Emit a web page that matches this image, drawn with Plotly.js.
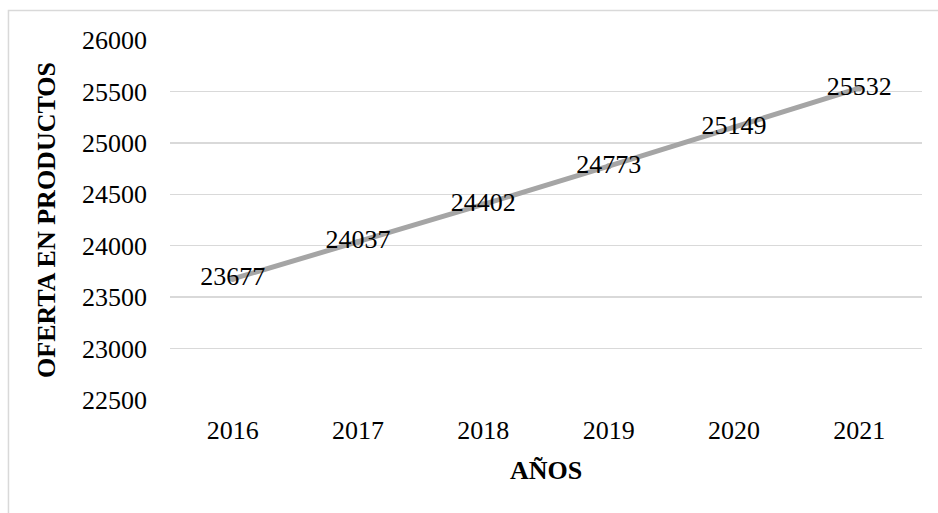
<!DOCTYPE html>
<html>
<head>
<meta charset="utf-8">
<script src="https://cdn.plot.ly/plotly-3.0.1.min.js"></script>
<style>html,body{margin:0;padding:0;background:#fff;}#chart{width:938px;height:513px;}</style>
</head>
<body>
<div id="chart"></div>
<script>
const years = ["2016", "2017", "2018", "2019", "2020", "2021"];
const oferta = [23677, 24037, 24402, 24773, 25149, 25532];
const yTicks = [22500, 23000, 23500, 24000, 24500, 25000, 25500, 26000];
const xTitle = "AÑOS";
const yTitle = "OFERTA EN PRODUCTOS";

const FONT = '"Liberation Serif", "Times New Roman", serif';

const trace = {
  x: years,
  y: oferta,
  type: 'scatter',
  mode: 'lines+markers+text',
  text: oferta.map(String),
  textposition: 'middle center',
  textfont: {family: FONT, size: 26, color: '#000'},
  line: {color: '#a5a5a5', width: 5},
  marker: {color: '#a5a5a5', size: 6},
  hoverinfo: 'skip',
  cliponaxis: false
};

const layout = {
  width: 938,
  height: 513,
  margin: {l: 170, r: 16, t: 40, b: 113, pad: 0},
  paper_bgcolor: '#fff',
  plot_bgcolor: '#fff',
  showlegend: false,
  font: {family: FONT, size: 26, color: '#000'},
  xaxis: {
    type: 'category',
    range: [-0.5, 5.5],
    showgrid: false,
    zeroline: false,
    showline: false,
    ticks: '',
    ticklabelstandoff: 12,
    tickfont: {family: FONT, size: 26, color: '#000'},
    title: {text: xTitle, font: {family: FONT, size: 26, color: '#000', weight: 'bold'}, standoff: 16},
    automargin: false
  },
  yaxis: {
    range: [22500, 26000],
    tickvals: yTicks,
    ticktext: yTicks.map(String),
    showgrid: true,
    gridcolor: '#d9d9d9',
    gridwidth: 1.5,
    zeroline: false,
    showline: false,
    ticks: '',
    ticklabelstandoff: 22,
    tickfont: {family: FONT, size: 26, color: '#000'},
    title: {text: yTitle, font: {family: FONT, size: 26, color: '#000', weight: 'bold'}, standoff: 18},
    automargin: false
  },
  shapes: [{
    type: 'rect', xref: 'paper', yref: 'paper',
    x0: -0.2148, x1: 1.2, y0: -0.6, y1: 1.0819,
    line: {color: '#d9d9d9', width: 1.5},
    fillcolor: 'rgba(0,0,0,0)',
    layer: 'below'
  }]
};

Plotly.newPlot('chart', [trace], layout, {displayModeBar: false, staticPlot: true});
</script>
</body>
</html>
